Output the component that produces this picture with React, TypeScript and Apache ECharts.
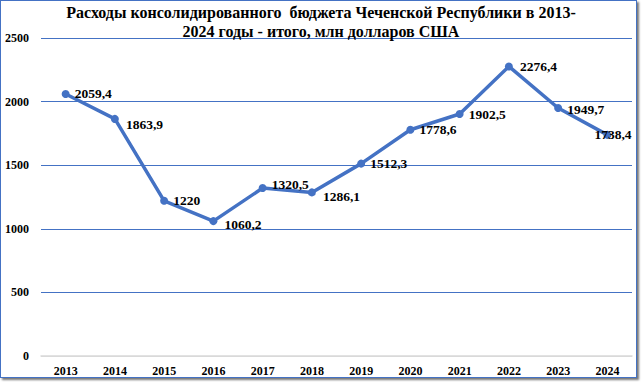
import React, { useEffect, useRef } from "react";
import * as echarts from "echarts";

const years = ["2013", "2014", "2015", "2016", "2017", "2018", "2019", "2020", "2021", "2022", "2023", "2024"];
const values = [2059.4, 1863.9, 1220, 1060.2, 1320.5, 1286.1, 1512.3, 1778.6, 1902.5, 2276.4, 1949.7, 1738.4];
const yTicks = [0, 500, 1000, 1500, 2000, 2500];
const titleText = "Расходы консолидированного  бюджета Чеченской Республики в 2013-\n2024 годы - итого, млн долларов США";

const FONT = "'Liberation Serif', 'Times New Roman', serif";
const BLUE = "#4472C4";

export default function App() {
  const ref = useRef<HTMLDivElement>(null);
  useEffect(() => {
    if (!ref.current) return;
    const chart = echarts.init(ref.current, null, { renderer: "svg" });
    const labelOffsets: Record<number, [number, number]> = {
      0: [0, -1],
      1: [2, 6],
      3: [2, 3],
      4: [0, -4],
      5: [2, 4],
      9: [2, 0],
      10: [0, 2],
      11: [-22, 0],
    };
    chart.setOption({
      animation: false,
      title: {
        text: titleText,
        left: 320,
        top: 2,
        padding: 0,
        textAlign: "center",
        textStyle: {
          fontFamily: FONT,
          fontWeight: "bold",
          fontSize: 16,
          color: "#000",
          lineHeight: 19,
        },
      },
      grid: { left: 40, right: 4, top: 37, bottom: 21 },
      xAxis: {
        type: "category",
        data: years,
        boundaryGap: true,
        axisLine: { show: true, lineStyle: { color: "#d9d9d9", width: 1.5 } },
        axisTick: { show: false },
        axisLabel: {
          fontFamily: FONT,
          fontWeight: "bold",
          fontSize: 12,
          color: "#000",
          margin: 9,
        },
      },
      yAxis: {
        type: "value",
        min: yTicks[0],
        max: yTicks[yTicks.length - 1],
        interval: 500,
        axisLine: { show: false },
        axisTick: { show: false },
        splitLine: {
          show: true,
          lineStyle: { color: ["#d9d9d9", BLUE, BLUE, BLUE, BLUE, BLUE], width: 1.2 },
        },
        axisLabel: {
          fontFamily: FONT,
          fontWeight: "bold",
          fontSize: 12,
          color: "#000",
          margin: 12,
          formatter: (v: number) => String(v),
        },
      },
      series: [
        {
          type: "line",
          data: values.map((v, i) => ({
            value: v,
            label: labelOffsets[i] ? { offset: labelOffsets[i] } : undefined,
          })),
          symbol: "circle",
          symbolSize: 8,
          lineStyle: { color: BLUE, width: 3.5 },
          itemStyle: { color: BLUE },
          label: {
            show: true,
            position: "right",
            distance: 5,
            fontFamily: FONT,
            fontWeight: "bold",
            fontSize: 13.5,
            color: "#000",
            formatter: (p: any) => String(p.value).replace(".", ","),
          },
        },
      ],
    });
    return () => chart.dispose();
  }, []);
  return (
    <div style={{ position: "absolute", left: 0, top: 0, width: 643, height: 382, background: "#fff" }}>
      <div
        style={{
          position: "absolute",
          left: 0,
          top: 0,
          width: 637,
          height: 378,
          border: `1px solid ${BLUE}`,
          boxShadow: "2px 2px 2px #777",
          boxSizing: "border-box",
        }}
      >
        <div ref={ref} style={{ width: 635, height: 376 }} />
      </div>
    </div>
  );
}
